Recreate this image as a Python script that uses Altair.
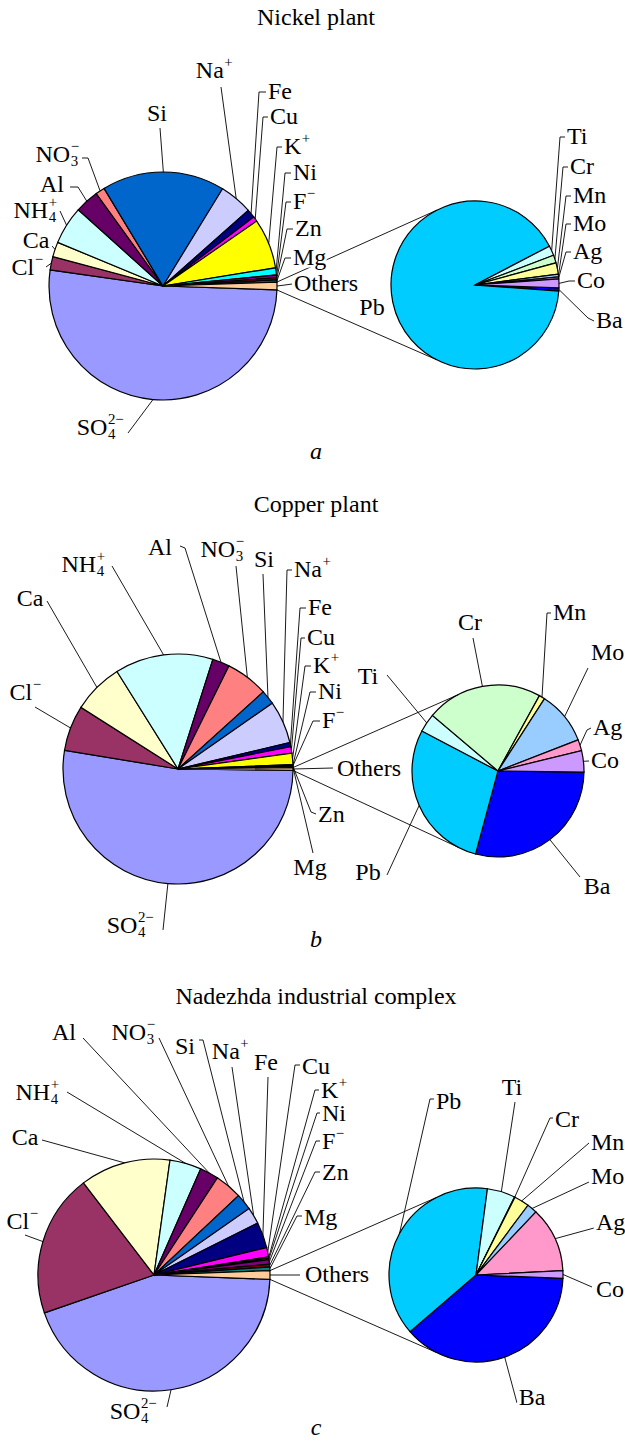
import math
import altair as alt
import pandas as pd

# ---- components of the main pies, clockwise starting just below "Others" ----
main_keys = ["SO4", "Cl", "Ca", "NH4", "Al", "NO3", "Si", "Na", "Fe", "Cu",
             "K", "Ni", "F", "Zn", "Mg", "Others"]
# label text as (body, subscript, superscript)
main_text = [("SO", "4", "2−"), ("Cl", "", "−"), ("Ca", "", ""), ("NH", "4", "+"),
             ("Al", "", ""), ("NO", "3", "−"), ("Si", "", ""), ("Na", "", "+"),
             ("Fe", "", ""), ("Cu", "", ""), ("K", "", "+"), ("Ni", "", ""),
             ("F", "", "−"), ("Zn", "", ""), ("Mg", "", ""), ("Others", "", "")]

# shares of the total, %
nickel_main = [51.7, 1.9, 2.1, 5.4, 3.4, 1.3, 17.4, 4.7, 1.2, 0.7, 7.1, 1.0, 0.4, 0.3, 0.3, 1.1]
copper_main = [52.4, 6.4, 7.1, 13.8, 2.4, 6.0, 2.0, 6.0, 0.6, 0.9, 1.6, 0.1, 0.1, 0.1, 0.1, 0.4]
nadezhda_main = [44.1, 19.9, 12.6, 4.4, 2.6, 3.8, 2.3, 2.3, 3.6, 1.3, 0.2, 0.2, 0.6, 0.4, 0.5, 1.2]

# ---- breakdown of "Others", % of the group ----
sec_keys = ["Ba", "Pb", "Ti", "Cr", "Mn", "Mo", "Ag", "Co"]
nickel_sec = [0.6, 91.2, 1.9, 1.5, 2.2, 0.5, 0.4, 1.7]
copper_sec = [29.0, 28.5, 3.5, 21.8, 1.1, 10.0, 2.1, 4.0]
nadezhda_sec = [38.1, 38.4, 5.2, 0.1, 2.8, 1.9, 12.1, 1.4]

plant_titles = ["Nickel plant", "Copper plant", "Nadezhda industrial complex"]
panel_tags = ["a", "b", "c"]

FILL = {
    "SO4": "#9999FF", "Cl": "#993366", "Ca": "#FFFFCC", "NH4": "#CCFFFF",
    "Al": "#660066", "NO3": "#FF8080", "Si": "#0066CC", "Na": "#CCCCFF",
    "Fe": "#000080", "Cu": "#FF00FF", "K": "#FFFF00", "Ni": "#00FFFF",
    "F": "#800080", "Zn": "#800000", "Mg": "#008080", "Others": "#FFCC99",
    "Ba": "#0000FF", "Pb": "#00CCFF", "Ti": "#CCFFFF", "Cr": "#CCFFCC",
    "Mn": "#FFFF99", "Mo": "#99CCFF", "Ag": "#FF99CC", "Co": "#CC99FF",
}
TEXT = dict(zip(main_keys, main_text))
TEXT.update({k: (k, "", "") for k in sec_keys})

W, H = 625, 1442
FONT = "'Liberation Serif', 'DejaVu Serif', serif"
FS = 24
SCRIPT = 0.62          # size of sub/superscripts relative to body text
# advance widths (em) of the serif face, for placing scripts after the body
ADV = {"S": .556, "O": .722, "C": .667, "l": .278, "N": .722, "H": .722, "a": .444,
       "K": .722, "F": .556, "2": .5, "3": .5, "4": .5, "+": .564, "−": .564}

# ---- layout: pie centres / radii, title rows, label placement ----
# label entry: key -> (text x, text y, align, leader points from label toward the wedge)
NICKEL_MAIN_LAB = {
    "SO4": (100, 428, "center", [(128, 433)]),
    "Cl": (27, 268, "center", [(46, 267)]),
    "Ca": (36, 241, "center", [(52, 246)]),
    "NH4": (35, 211, "center", [(60, 211)]),
    "Al": (52, 185, "center", [(70, 187), (78, 187)]),
    "NO3": (57, 155, "center", [(82, 158), (88, 158)]),
    "Si": (157, 114, "center", [(160, 128)]),
    "Na": (214, 71, "center", [(221, 87)]),
    "Fe": (268, 92, "left", [(266, 92), (259, 92)]),
    "Cu": (270, 117, "left", [(268, 117), (263, 117)]),
    "K": (284, 147, "left", [(282, 147), (277, 147)]),
    "Ni": (293, 173, "left", [(291, 173), (285, 173)]),
    "F": (293, 202, "left", [(291, 202), (286, 202)]),
    "Zn": (295, 229, "left", [(293, 229), (287, 229)]),
    "Mg": (293, 258, "left", [(291, 258), (285, 258)]),
    "Others": (294, 284, "left", [(292, 284), (285, 285)]),
}
NICKEL_SEC_LAB = {
    "Ba": (596, 321, "left", [(594, 321), (588, 318)]),
    "Pb": (372, 308, "center", []),
    "Ti": (567, 137, "left", [(565, 137), (560, 137)]),
    "Cr": (570, 167, "left", [(568, 167), (563, 167)]),
    "Mn": (573, 196, "left", [(571, 196), (566, 196)]),
    "Mo": (573, 224, "left", [(571, 224), (566, 224)]),
    "Ag": (573, 252, "left", [(571, 252), (566, 252)]),
    "Co": (577, 281, "left", [(575, 281), (569, 281)]),
}
COPPER_MAIN_LAB = {
    "SO4": (130, 926, "center", [(163, 930)]),
    "Cl": (25, 693, "center", [(35, 707)]),
    "Ca": (30, 599, "center", [(47, 601)]),
    "NH4": (83, 565, "center", [(112, 566)]),
    "Al": (160, 548, "center", [(180, 546), (185, 548)]),
    "NO3": (222, 550, "center", [(236, 566)]),
    "Si": (264, 560, "center", [(263, 574)]),
    "Na": (294, 570, "left", [(292, 570), (287, 570)]),
    "Fe": (308, 608, "left", [(306, 608), (300, 608)]),
    "Cu": (307, 638, "left", [(305, 638), (301, 638)]),
    "K": (313, 666, "left", [(311, 666), (305, 666)]),
    "Ni": (318, 692, "left", [(316, 692), (310, 692)]),
    "F": (322, 721, "left", [(320, 721), (313, 721)]),
    "Zn": (318, 815, "left", [(316, 814), (311, 812)]),
    "Mg": (310, 868, "center", [(313, 853)]),
    "Others": (337, 769, "left", [(333, 768)]),
}
COPPER_SEC_LAB = {
    "Ba": (597, 887, "center", [(580, 877)]),
    "Pb": (368, 873, "center", [(387, 875)]),
    "Ti": (368, 677, "center", [(387, 675)]),
    "Cr": (470, 623, "center", [(473, 638)]),
    "Mn": (553, 613, "left", [(551, 613), (547, 613)]),
    "Mo": (591, 653, "left", [(588, 668)]),
    "Ag": (593, 728, "left", [(591, 728), (587, 730)]),
    "Co": (591, 761, "left", [(589, 761)]),
}
NADEZHDA_MAIN_LAB = {
    "SO4": (133, 1412, "center", [(167, 1407)]),
    "Cl": (22, 1222, "center", [(25, 1235)]),
    "Ca": (25, 1138, "center", [(42, 1140)]),
    "NH4": (37, 1093, "center", [(67, 1092)]),
    "Al": (64, 1033, "center", [(83, 1038)]),
    "NO3": (133, 1033, "center", [(159, 1038)]),
    "Si": (185, 1047, "center", [(199, 1040), (203, 1040)]),
    "Na": (230, 1052, "center", [(232, 1067)]),
    "Fe": (266, 1063, "center", [(268, 1077)]),
    "Cu": (302, 1067, "left", [(300, 1065), (295, 1065)]),
    "K": (321, 1091, "left", [(319, 1090), (315, 1090)]),
    "Ni": (322, 1114, "left", [(320, 1113), (317, 1113)]),
    "F": (322, 1142, "left", [(320, 1141), (316, 1141)]),
    "Zn": (322, 1173, "left", [(320, 1172), (315, 1172)]),
    "Mg": (304, 1218, "left", [(302, 1216), (297, 1216)]),
    "Others": (305, 1275, "left", [(300, 1275)]),
}
NADEZHDA_SEC_LAB = {
    "Ba": (532, 1398, "center", [(517, 1403)]),
    "Pb": (436, 1102, "left", [(434, 1099), (430, 1099)]),
    "Ti": (512, 1088, "center", [(515, 1102)]),
    "Cr": (555, 1120, "left", [(553, 1118), (550, 1118)]),
    "Mn": (591, 1143, "left", [(589, 1143)]),
    "Mo": (591, 1177, "left", [(589, 1182)]),
    "Ag": (596, 1223, "left", [(594, 1228)]),
    "Co": (596, 1290, "left", [(592, 1287)]),
}

PANELS = [
    dict(title_y=18, tag_y=452, main=(163, 286, 114), sec=(475, 285, 84),
         mv=nickel_main, sv=nickel_sec, ml=NICKEL_MAIN_LAB, sl=NICKEL_SEC_LAB),
    dict(title_y=505, tag_y=940, main=(178, 769, 115), sec=(498, 771, 86),
         mv=copper_main, sv=copper_sec, ml=COPPER_MAIN_LAB, sl=COPPER_SEC_LAB),
    dict(title_y=997, tag_y=1428, main=(154, 1275, 116), sec=(476, 1275, 87),
         mv=nadezhda_main, sv=nadezhda_sec, ml=NADEZHDA_MAIN_LAB, sl=NADEZHDA_SEC_LAB),
]
TITLE_X = 316
LINK_ANGLE = math.radians(117)   # where the series lines meet the secondary pie


def text_width(s, size):
    return sum(ADV.get(ch, 0.5) for ch in s) * size


def edge_point(values, i, cx, cy, r, a0, frac=0.5):
    """Point on the rim of wedge i (frac=0 start, 0.5 middle, 1 end)."""
    total = sum(values)
    acc = sum(values[:i]) + frac * values[i]
    ang = a0 + 2 * math.pi * acc / total
    return cx + r * math.sin(ang), cy - r * math.cos(ang)


def arc_layer(keys, values, cx, cy, r, a0):
    df = pd.DataFrame({"k": list(range(len(keys))), "key": keys, "share": values,
                       "fill": [FILL[k] for k in keys]})
    return alt.Chart(df).mark_arc(stroke="black", strokeWidth=1.2, outerRadius=r).encode(
        x=alt.value(cx),
        y=alt.value(cy),
        theta=alt.Theta("share:Q", stack=True,
                        scale=alt.Scale(range=[a0, a0 + 2 * math.pi])),
        order=alt.Order("k:Q", sort="ascending"),
        color=alt.Color("fill:N", scale=None),
    )


def label_rows(parts, tx, ty, align):
    """Body text plus stacked subscript / superscript pieces."""
    body, sub, sup = parts
    if not sub and not sup:
        return [dict(tx=tx, ty=ty, align=align, label=body, fs=FS)]
    wb = text_width(body, FS)
    ws = max(text_width(sub, FS * SCRIPT), text_width(sup, FS * SCRIPT))
    left = tx - (wb + ws) / 2 if align == "center" else tx
    rows = [dict(tx=left, ty=ty, align="left", label=body, fs=FS)]
    if sub:
        rows.append(dict(tx=left + wb + 0.5, ty=ty + 0.30 * FS, align="left",
                         label=sub, fs=FS * SCRIPT))
    if sup:
        rows.append(dict(tx=left + wb + 0.5, ty=ty - 0.34 * FS, align="left",
                         label=sup, fs=FS * SCRIPT))
    return rows


arcs, line_rows, text_rows = [], [], []
lid = 0
for p, title in zip(PANELS, plant_titles):
    mcx, mcy, mr = p["main"]
    scx, scy, sr = p["sec"]
    mv, sv = p["mv"], p["sv"]
    # "Others" is centred on 3 o'clock; the secondary pie starts at the same angle
    a0 = math.pi / 2 + math.pi * mv[-1] / sum(mv)
    arcs.append(arc_layer(main_keys, mv, mcx, mcy, mr, a0))
    arcs.append(arc_layer(sec_keys, sv, scx, scy, sr, a0))

    # series lines joining "Others" to the secondary pie
    oi = len(mv) - 1
    top = edge_point(mv, oi, mcx, mcy, mr, a0, 0.0)
    bot = edge_point(mv, oi, mcx, mcy, mr, a0, 1.0)
    s_top = (scx + sr * math.cos(-LINK_ANGLE), scy + sr * math.sin(-LINK_ANGLE))
    s_bot = (scx + sr * math.cos(LINK_ANGLE), scy + sr * math.sin(LINK_ANGLE))
    for a, b in ((top, s_top), (bot, s_bot)):
        for s, (px, py) in enumerate((a, b)):
            line_rows.append(dict(lid=lid, seq=s, px=px, py=py))
        lid += 1

    # labels and leaders
    for keys, vals, (cx, cy, r), labs in ((main_keys, mv, p["main"], p["ml"]),
                                          (sec_keys, sv, p["sec"], p["sl"])):
        for i, k in enumerate(keys):
            tx, ty, align, pts = labs[k]
            text_rows.extend(label_rows(TEXT[k], tx, ty, align))
            if pts:
                poly = pts + [edge_point(vals, i, cx, cy, r, a0)]
                for s, (px, py) in enumerate(poly):
                    line_rows.append(dict(lid=lid, seq=s, px=px, py=py))
                lid += 1

    text_rows.append(dict(tx=TITLE_X, ty=p["title_y"], align="center", label=title, fs=FS))

lines_df = pd.DataFrame(line_rows)
text_df = pd.DataFrame(text_rows)
tags_df = pd.DataFrame({"tx": [TITLE_X] * 3, "ty": [p["tag_y"] for p in PANELS],
                        "label": panel_tags})

pos = dict(x=alt.X("px:Q", scale=None, axis=None), y=alt.Y("py:Q", scale=None, axis=None))

leaders = alt.Chart(lines_df).mark_line(color="black", strokeWidth=0.9).encode(
    detail="lid:N", order="seq:Q", **pos)


def text_layer(align, halo):
    kw = dict(font=FONT, align=align, baseline="middle")
    if halo:
        kw.update(color="white", stroke="white", strokeWidth=5)
    else:
        kw.update(color="black")
    return alt.Chart(text_df).transform_filter(
        alt.datum.align == align
    ).mark_text(**kw).encode(
        x=alt.X("tx:Q", scale=None, axis=None),
        y=alt.Y("ty:Q", scale=None, axis=None),
        size=alt.Size("fs:Q", scale=None),
        text="label:N",
    )


tags = alt.Chart(tags_df).mark_text(
    font=FONT, fontSize=FS, fontStyle="italic", color="black", baseline="middle"
).encode(x=alt.X("tx:Q", scale=None, axis=None),
         y=alt.Y("ty:Q", scale=None, axis=None), text="label:N")

chart = alt.layer(
    *arcs,
    leaders,
    text_layer("left", True), text_layer("center", True),
    text_layer("left", False), text_layer("center", False),
    tags,
).resolve_scale(theta="independent").properties(
    width=W, height=H, padding=0,
    autosize=alt.AutoSizeParams(type="none"),
).configure_view(stroke=None)

chart.save("out.html", embed_options={"renderer": "svg", "actions": False})
